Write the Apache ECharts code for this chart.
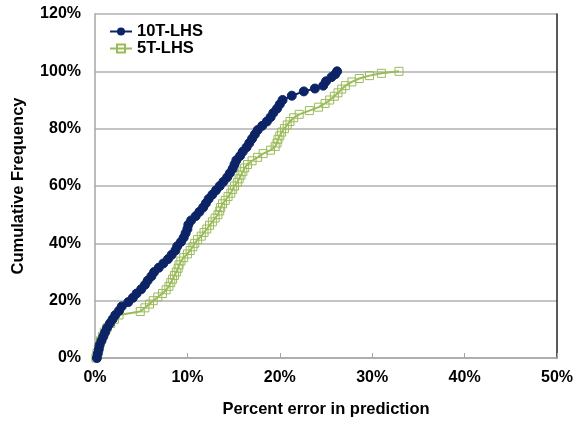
<!DOCTYPE html>
<html>
<head>
<meta charset="utf-8">
<script src="https://cdn.jsdelivr.net/npm/echarts@6/dist/echarts.min.js"></script>
<style>
  html, body { margin: 0; padding: 0; background: #fff; }
  #chart { width: 585px; height: 424px; }
</style>
</head>
<body>
<div id="chart"></div>
<script>
// percent error (x) vs cumulative frequency (y)
const seriesNames = ['10T-LHS', '5T-LHS']
const xTicks = [0, 10, 20, 30, 40, 50]
const yTicks = [0, 20, 40, 60, 80, 100, 120]

const err10T = [0.2, 0.3, 0.4, 0.5, 0.7, 0.9, 1.1, 1.3, 1.6, 1.9, 2.2, 2.6, 2.9, 3.6, 4.1, 4.5, 5.0, 5.4, 5.7, 6.1,
  6.4, 6.9, 7.4, 7.9, 8.3, 8.7, 8.9, 9.3, 9.6, 9.8, 10.0, 10.1, 10.4, 10.9, 11.3, 11.7, 12.0, 12.3, 12.7, 13.1,
  13.5, 13.9, 14.3, 14.6, 14.9, 15.1, 15.3, 15.7, 16.0, 16.4, 16.7, 17.0, 17.3, 17.6, 18.1, 18.6, 19.0, 19.3,
  19.7, 20.0, 20.3, 21.3, 22.6, 23.8, 24.7, 25.0, 25.6, 26.0, 26.2]
const freq10T = [0, 1.5, 3, 4.5, 6, 7.5, 9, 10.5, 12, 13.5, 15, 16.5, 18, 19.5, 21, 22.5, 24, 25.5, 27, 28.5,
  30, 31.5, 33, 34.5, 36, 37.5, 39, 40.5, 42, 43.5, 45, 46.5, 48, 49.5, 51, 52.5, 54, 55.5, 57, 58.5,
  60, 61.5, 63, 64.5, 66, 67.5, 69, 70.5, 72, 73.5, 75, 76.5, 78, 79.5, 81, 82.5, 84, 85.5,
  87, 88.5, 90, 91.5, 93, 94, 95, 96.5, 98, 99, 100]

const err5T = [0.1, 0.2, 0.4, 0.5, 0.6, 0.8, 1.0, 1.3, 1.7, 2.1, 2.6, 4.9, 5.4, 5.9, 6.3, 6.8, 7.3, 7.7, 8.0, 8.2,
  8.4, 8.6, 8.8, 9.0, 9.1, 9.3, 9.6, 10.0, 10.3, 10.6, 10.8, 11.1, 11.5, 11.8, 12.1, 12.4, 12.7, 13.0, 13.3, 13.5,
  13.6, 13.8, 14.1, 14.4, 14.7, 14.9, 15.1, 15.4, 15.6, 15.8, 16.0, 16.2, 16.5, 17.0, 17.6, 18.2, 19.0, 19.5,
  19.7, 19.8, 20.0, 20.2, 20.5, 20.8, 21.1, 21.5, 22.1, 23.2, 24.2, 24.9, 25.4, 25.9, 26.3, 26.7, 27.1, 27.8,
  28.6, 29.7, 31.0, 32.9]
const freq5T = [0, 1.5, 3, 4.5, 6, 7.5, 9, 10.5, 12, 13.5, 15, 16.2, 17.5, 18.8, 20, 21.3, 22.5, 23.8, 25, 26.3,
  27.5, 28.8, 30, 31.3, 32.5, 33.8, 35, 36.3, 37.5, 38.8, 40, 41.3, 42.5, 43.8, 45, 46.3, 47.5, 48.8, 50, 51.3,
  52.5, 53.8, 55, 56.3, 57.5, 58.8, 60, 61.3, 62.5, 63.8, 65, 66.3, 67.5, 68.8, 70, 71.3, 72.5, 73.8,
  75, 76.3, 77.5, 78.8, 80, 81.3, 82.5, 83.8, 85, 86.3, 87.5, 88.8, 90, 91.3, 92.5, 93.8, 95, 96.3,
  97.5, 98.5, 99.3, 100]

const pairs = (xs, ys) => xs.map((x, i) => [x, ys[i]])

const navy = '#0c2466'
const green = '#9bbb59'
const boldFont = { fontFamily: 'Liberation Sans, Arial, sans-serif', fontWeight: 'bold', fontSize: 16, color: '#000' }

const chart = echarts.init(document.getElementById('chart'))
chart.setOption({
  animation: false,
  backgroundColor: '#fff',
  grid: { left: 95, right: 28, top: 14, bottom: 66 },
  legend: {
    left: 104, top: 18, orient: 'vertical', itemGap: 0,
    itemWidth: 22, itemHeight: 10,
    textStyle: { ...boldFont, fontSize: 16.5 },
    data: seriesNames
  },
  xAxis: {
    type: 'value', min: xTicks[0], max: xTicks[xTicks.length - 1], interval: 10,
    axisLine: { lineStyle: { color: '#a6a6a6', width: 1.5 } },
    axisTick: { show: true, inside: true, length: 5, lineStyle: { color: '#a6a6a6' } },
    splitLine: { show: false },
    axisLabel: { ...boldFont, margin: 12, formatter: v => v + '%' },
    name: 'Percent error in prediction', nameLocation: 'middle', nameGap: 43,
    nameTextStyle: { ...boldFont, fontSize: 16.5 }
  },
  yAxis: [{
    type: 'value', min: yTicks[0], max: yTicks[yTicks.length - 1], interval: 20,
    axisLine: { show: true, lineStyle: { color: '#a6a6a6', width: 1.5 } },
    axisTick: { show: false },
    splitLine: { lineStyle: { color: '#b0b0b0', width: 1.5 } },
    axisLabel: { ...boldFont, margin: 14, formatter: v => v + '%' },
    name: 'Cumulative Frequency', nameLocation: 'middle', nameGap: 68,
    nameTextStyle: { ...boldFont, fontSize: 16.5 }
  }, {
    type: 'value', position: 'right', min: 0, max: 120,
    axisLine: { show: true, lineStyle: { color: '#222', width: 1.5 } },
    axisTick: { show: false }, axisLabel: { show: false }, splitLine: { show: false }
  }],
  series: [
    {
      name: seriesNames[0], type: 'line', data: pairs(err10T, freq10T),
      symbol: 'circle', symbolSize: 9, z: 3,
      lineStyle: { color: navy, width: 2 },
      itemStyle: { color: navy, borderColor: navy }
    },
    {
      name: seriesNames[1], type: 'line', data: pairs(err5T, freq5T),
      symbol: 'rect', symbolSize: 8, z: 2,
      lineStyle: { color: green, width: 2 },
      itemStyle: { color: 'rgba(255,255,255,0)', borderColor: green, borderWidth: 1 }
    }
  ]
})
</script>
</body>
</html>
